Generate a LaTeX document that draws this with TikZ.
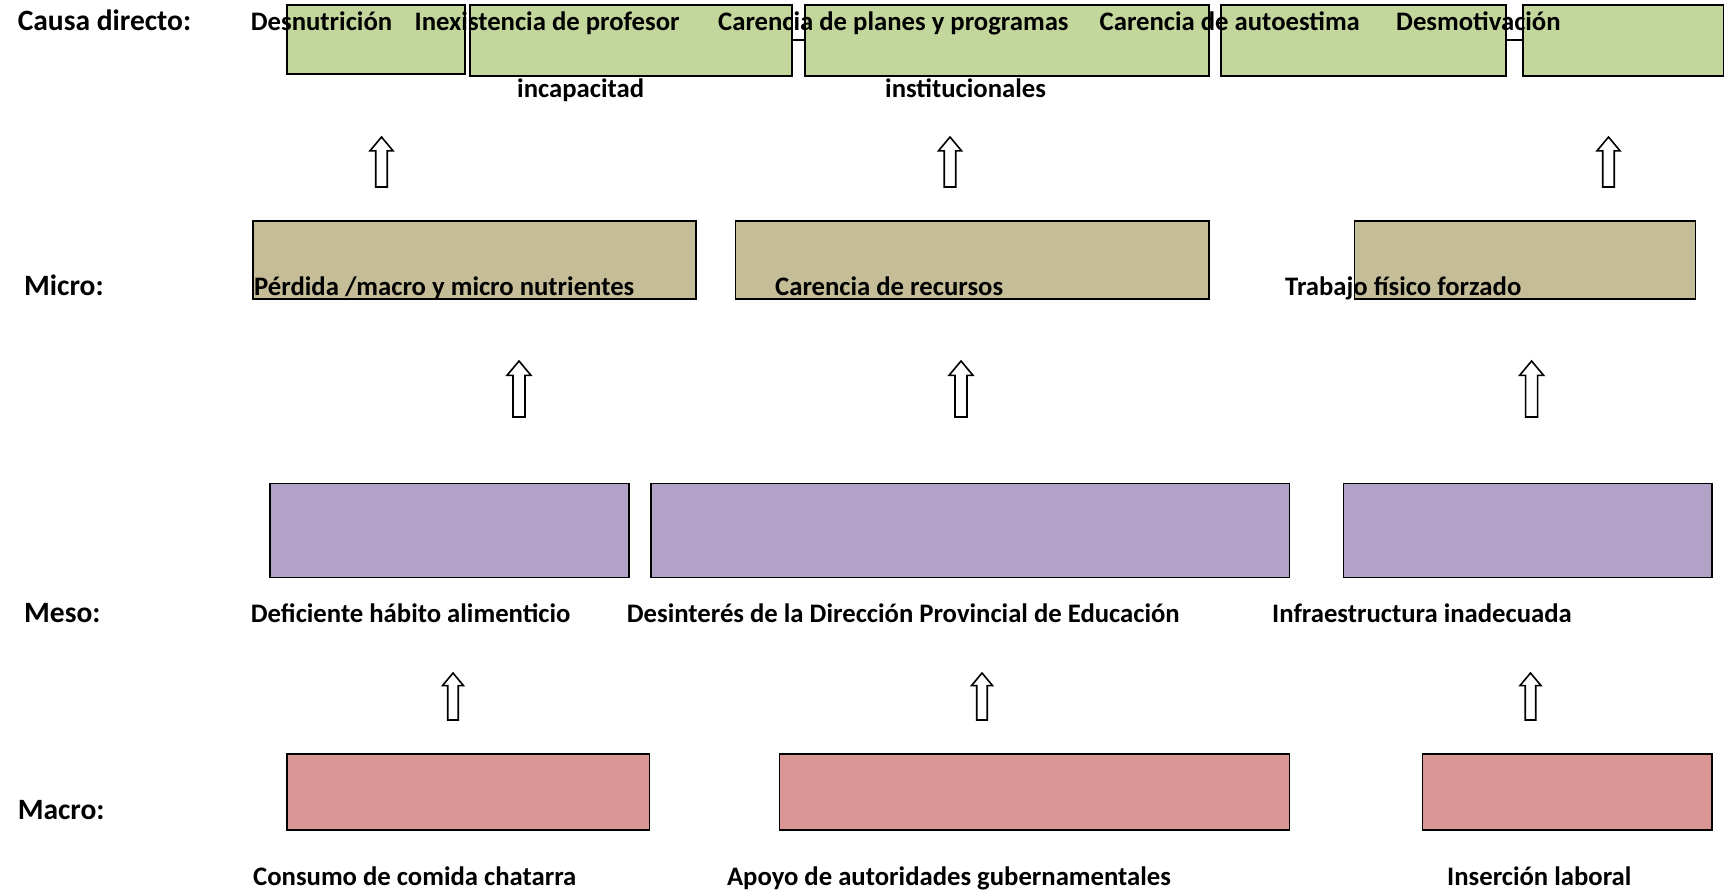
\documentclass[tikz,border=0pt]{standalone}
\usepackage{fontspec}
\setmainfont{Carlito}
\usetikzlibrary{calc}
\definecolor{causegreen}{HTML}{C3D69B}
\definecolor{microtan}{HTML}{C4BD97}
\definecolor{mesolilac}{HTML}{B2A2C7}
\definecolor{macrored}{HTML}{D99694}
\def\blockup(#1,#2)(#3:#4){\draw[arrowline] (#1,#2) -- ++({#4/2},{0.6*#4}) -- ++({-#4/4},0) -- ++(0,{#3-0.6*#4}) -- ++({-#4/2},0) -- ++(0,{-(#3-0.6*#4)}) -- ++({-#4/4},0) -- cycle;}
\tikzset{
	box/.style={draw=black, line width=1.6pt, rectangle, anchor=north west, inner sep=0pt},
	causebox/.style={box, fill=causegreen},
	microbox/.style={box, fill=microtan},
	mesobox/.style={box, fill=mesolilac},
	macrobox/.style={box, fill=macrored},
	lbl/.style={anchor=west, inner sep=0pt, font=\fontsize{26.7}{30}\selectfont\bfseries, text height=18pt, text depth=5pt},
	levellbl/.style={lbl, font=\fontsize{29.5}{33}\selectfont\bfseries},
	arrowline/.style={draw=black, line width=1.6pt, fill=white, line join=miter},
}
\begin{document}
\begin{tikzpicture}[x=1pt, y=-1pt]
			%%%%% START %%%%%
			\useasboundingbox (0,0) rectangle (1724,891);
			
			\node[levellbl] (causa) at (17.6,24) {Causa directo:};
			\node[levellbl] (micro) at (24,288.5) {Micro:};
			\node[levellbl] (meso) at (24,616) {Meso:};
			\node[levellbl] (macro) at (17.6,812.5) {Macro:};
			
			\node[causebox, minimum width=178pt, minimum height=69pt] (g1) at (286,4) {};
			\node[causebox, minimum width=322pt, minimum height=71pt] (g2) at (469,4) {};
			\node[causebox, minimum width=404pt, minimum height=71pt] (g3) at (804,4) {};
			\node[causebox, minimum width=285pt, minimum height=71pt] (g4) at (1220,4) {};
			\node[causebox, minimum width=201pt, minimum height=71pt] (g5) at (1522,4) {};
			\draw[line width=1.6pt] (g2.east) -- (g3.west);
			\draw[line width=1.6pt] (g4.east) -- (g5.west);
			
			\node[lbl] (desnutricion) at (250.7,24.5) {Desnutrición};
			\node[lbl] (inexistencia) at (414.5,24.5) {Inexistencia de profesor};
			\node[lbl] (carenciaplanes) at (718,24.5) {Carencia de planes y programas};
			\node[lbl] (autoestima) at (1099.5,24.5) {Carencia de autoestima};
			\node[lbl] (desmotivacion) at (1396,24.5) {Desmotivación};
			\node[lbl] (incapacitad) at (517,90.5) {incapacitad};
			\node[lbl] (institucionales) at (885,90.5) {institucionales};
			
			\blockup(381.5,137)(50:23)
			\blockup(950,137)(50:23)
			\blockup(1608.5,137)(50:23)
			
			\node[microbox, minimum width=443pt, minimum height=78pt] (m1) at (252,220) {};
			\node[microbox, minimum width=473.5pt, minimum height=78pt] (m2) at (734.5,220) {};
			\node[microbox, minimum width=341pt, minimum height=78pt] (m3) at (1353.5,220) {};
			\node[lbl] (perdida) at (254,288.5) {Pérdida /macro y micro nutrientes};
			\node[lbl] (recursos) at (775,288.5) {Carencia de recursos};
			\node[lbl] (trabajo) at (1285,288.5) {Trabajo físico forzado};
			
			\blockup(519,361)(56:24)
			\blockup(961,361)(56:24)
			\blockup(1531.6,361)(56:24)
			
			\node[mesobox, minimum width=359pt, minimum height=94pt] (p1) at (269,482.7) {};
			\node[mesobox, minimum width=638.6pt, minimum height=94pt] (p2) at (650,482.7) {};
			\node[mesobox, minimum width=368.5pt, minimum height=94pt] (p3) at (1342.5,482.7) {};
			\node[lbl] (habito) at (250.7,616) {Deficiente hábito alimenticio};
			\node[lbl] (desinteres) at (626.7,616) {Desinterés de la Dirección Provincial de Educación};
			\node[lbl] (infraestructura) at (1272,616) {Infraestructura inadecuada};
			
			\blockup(453,673)(47:21)
			\blockup(982,673)(47:21)
			\blockup(1530.5,673)(47:21)
			
			\node[macrobox, minimum width=362.7pt, minimum height=76pt] (r1) at (286,753) {};
			\node[macrobox, minimum width=510pt, minimum height=76pt] (r2) at (778.5,753) {};
			\node[macrobox, minimum width=289.4pt, minimum height=76pt] (r3) at (1421.6,753) {};
			\node[lbl] (chatarra) at (253,878.5) {Consumo de comida chatarra};
			\node[lbl] (autoridades) at (726.8,878.5) {Apoyo de autoridades gubernamentales};
			\node[lbl] (insercion) at (1447,878.5) {Inserción laboral};
			
			%%%%% END %%%%%
\end{tikzpicture}
\end{document}
